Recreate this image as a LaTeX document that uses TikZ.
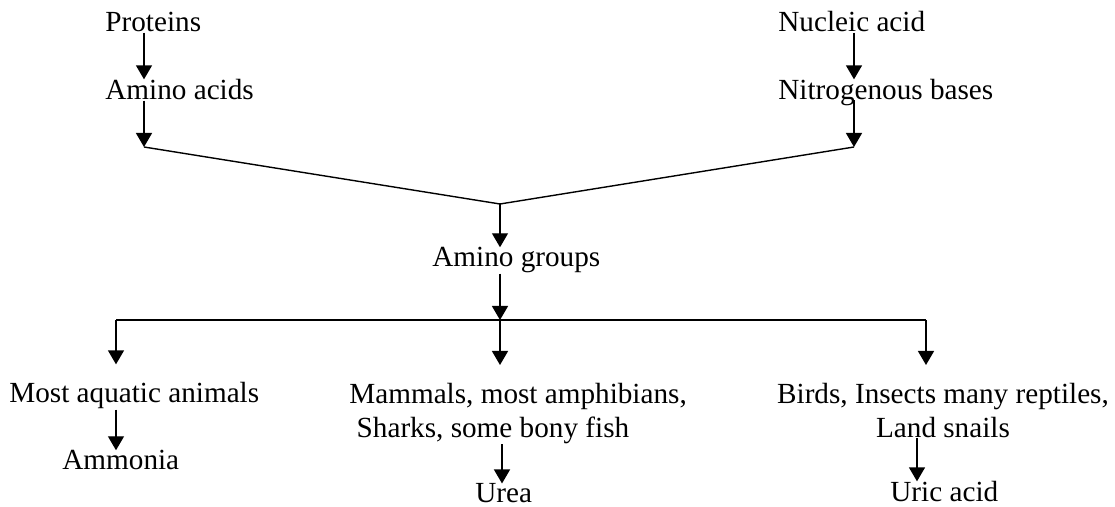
\documentclass[tikz,border=0pt]{standalone}
\usepackage{fontspec}
\setmainfont{Liberation Serif}
\usetikzlibrary{arrows.meta}
\tikzset{
  >={Triangle[length=7pt,width=8pt]},
  lbl/.style={inner sep=0pt,font=\fontsize{14.6}{17}\selectfont},
  arr/.style={->,line width=0.7pt},
  ln/.style={line width=0.7pt},
}
\begin{document}
\begin{tikzpicture}[x=0.5pt,y=-0.5pt]
  \useasboundingbox (0,0) rectangle (1115,507);
  % sources
  \node[lbl,anchor=base west] (prot) at (105,32) {Proteins};
  \node[lbl,anchor=base west] (amac) at (105,100) {Amino acids};
  \node[lbl,anchor=base west] (nucl) at (778,32) {Nucleic acid};
  \node[lbl,anchor=base west] (nbas) at (778,100) {Nitrogenous bases};
  \coordinate (jl) at (144,147);
  \coordinate (jr) at (854,147);
  \coordinate (jm) at (500,204);
  \node[lbl,anchor=base west] (agrp) at (432,267) {Amino groups};
  % bar
  \coordinate (bl) at (116,320);
  \coordinate (bm) at (500,320);
  \coordinate (br) at (926,320);
  % groups
  \node[lbl,anchor=base west] (aqua) at (9,403) {Most aquatic animals};
  \node[lbl,anchor=north west,align=left] (mamm) at (349,383)
    {Mammals, most amphibians,\\\hspace{0.25em}Sharks, some bony fish};
  \node[lbl,anchor=north,align=center] (bird) at (943,383)
    {Birds, Insects many reptiles,\\Land snails};
  % products
  \node[lbl,anchor=base west] (ammo) at (62,470) {Ammonia};
  \node[lbl,anchor=base west] (urea) at (475,503) {Urea};
  \node[lbl,anchor=base west] (uric) at (890,502) {Uric acid};
  \coordinate (xu) at (502,0);
  \coordinate (xc) at (917,0);

  \draw[arr] (prot.south -| jl) -- (amac.north -| jl);
  \draw[arr] (amac.south -| jl) -- (jl);
  \draw[arr] (nucl.south -| jr) -- (nbas.north -| jr);
  \draw[arr] (nbas.base -| jr) -- (jr);
  \draw[ln] (jl) -- (jm) -- (jr);
  \draw[arr] (jm) -- (agrp.north -| jm);
  \draw[arr] (agrp.south -| jm) -- (bm);
  \draw[ln] (bl) -- (br);
  \draw[arr] (bl) -- ([yshift=9pt]aqua.north -| bl);
  \draw[arr] (bm) -- ([yshift=9pt]mamm.north -| bm);
  \draw[arr] (br) -- ([yshift=9pt]bird.north -| br);
  \draw[arr] (aqua.south -| bl) -- (ammo.north -| bl);
  \draw[arr] (mamm.south -| xu) -- (urea.north -| xu);
  \draw[arr] (bird.south -| xc) -- (uric.north -| xc);
\end{tikzpicture}
\end{document}
